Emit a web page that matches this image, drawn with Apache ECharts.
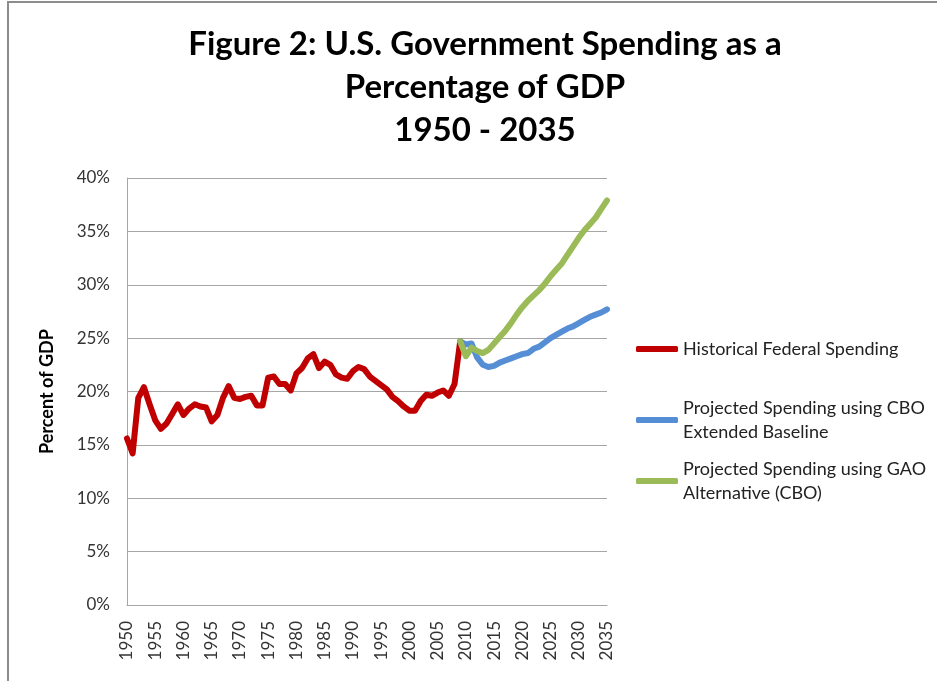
<!DOCTYPE html>
<html>
<head>
<meta charset="utf-8">
<script src="https://cdn.jsdelivr.net/npm/echarts@6/dist/echarts.min.js"></script>
<style>
  html, body { margin: 0; padding: 0; background: #fff; }
  #chart { width: 937px; height: 681px; }
</style>
</head>
<body>
<div id="chart"></div>
<script>
// years on the category axis
var years = [];
for (var y = 1950; y <= 2035; y++) years.push(String(y));

// historical federal spending, % of GDP, 1950 - 2009
var historical = [
    15.6, 14.2, 19.4, 20.4, 18.8, 17.3, 16.5, 17.0, 17.9, 18.8,
    17.8, 18.4, 18.8, 18.6, 18.5, 17.2, 17.8, 19.4, 20.5, 19.4,
    19.3, 19.5, 19.6, 18.7, 18.7, 21.3, 21.4, 20.7, 20.7, 20.1,
    21.7, 22.2, 23.1, 23.5, 22.2, 22.8, 22.5, 21.6, 21.3, 21.2,
    21.9, 22.3, 22.1, 21.4, 21.0, 20.6, 20.2, 19.5, 19.1, 18.6,
    18.2, 18.2, 19.1, 19.7, 19.6, 19.9, 20.1, 19.6, 20.7, 24.7
];

// projections, % of GDP, 2009 - 2035
var cboBaseline = [
    24.7, 24.4, 24.5, 23.2, 22.5, 22.3, 22.4, 22.7, 22.9, 23.1,
    23.3, 23.5, 23.6, 24.0, 24.2, 24.6, 25.0, 25.3, 25.6, 25.9,
    26.1, 26.4, 26.7, 27.0, 27.2, 27.4, 27.7
];
var gaoAlternative = [
    24.7, 23.3, 24.1, 23.8, 23.6, 23.9, 24.5, 25.1, 25.7, 26.4,
    27.2, 27.9, 28.5, 29.0, 29.5, 30.1, 30.8, 31.4, 32.0, 32.8,
    33.6, 34.4, 35.1, 35.7, 36.3, 37.1, 37.9
];

var seriesNames = [
    'Historical Federal Spending',
    'Projected Spending using CBO Extended Baseline',
    'Projected Spending using GAO Alternative (CBO)'
];

// pad a series out to the full year range
function padData(values, startYear) {
    var out = [];
    for (var i = 0; i < years.length; i++) {
        var idx = Number(years[i]) - startYear;
        out.push(idx >= 0 && idx < values.length ? values[idx] : null);
    }
    return out;
}

var fontName = 'Lato';
var legendWrap = {};
legendWrap[seriesNames[0]] = 'Historical Federal Spending';
legendWrap[seriesNames[1]] = 'Projected Spending using CBO\nExtended Baseline';
legendWrap[seriesNames[2]] = 'Projected Spending using GAO\nAlternative (CBO)';

function makeLegend(name, top, twoLines) {
    return {
        data: [name],
        left: 636,
        top: top,
        padding: 0,
        itemWidth: 42,
        itemHeight: 6,
        itemGap: 0,
        icon: 'roundRect',
        formatter: function (n) { return legendWrap[n]; },
        textStyle: {
            fontFamily: fontName,
            fontSize: 18,
            color: '#222',
            lineHeight: 24,
            padding: twoLines ? [24, 0, 0, 0] : 0
        }
    };
}

var chart = echarts.init(document.getElementById('chart'));
var option = {
    backgroundColor: '#fff',
    animation: false,
    graphic: [{
        type: 'rect',
        shape: { x: 8, y: 2, width: 1200, height: 1200 },
        style: { fill: 'none', stroke: '#8c8c8c', lineWidth: 2 },
        silent: true
    }],
    title: {
        text: 'Figure 2: U.S. Government Spending as a\nPercentage of GDP\n1950 - 2035',
        left: 480,
        top: 18,
        textAlign: 'center',
        textStyle: {
            fontFamily: fontName,
            fontSize: 33,
            fontWeight: 'bold',
            color: '#000',
            lineHeight: 43
        }
    },
    legend: [
        makeLegend(seriesNames[0], 337, false),
        makeLegend(seriesNames[1], 384, true),
        makeLegend(seriesNames[2], 445, true)
    ],
    grid: { left: 127, right: 330, top: 178, bottom: 76, containLabel: false },
    xAxis: {
        type: 'category',
        data: years,
        boundaryGap: false,
        axisLine: { lineStyle: { color: '#a6a6a6', width: 1 } },
        axisTick: { show: false },
        axisLabel: {
            interval: 4,
            rotate: 90,
            margin: 16,
            fontFamily: fontName,
            fontSize: 17,
            color: '#333'
        },
        splitLine: { show: false }
    },
    yAxis: {
        type: 'value',
        min: 0,
        max: 40,
        interval: 5,
        name: 'Percent of GDP',
        nameLocation: 'middle',
        nameGap: 71,
        nameTextStyle: {
            fontFamily: fontName,
            fontSize: 18,
            fontWeight: 'bold',
            color: '#000'
        },
        axisLine: { show: true, lineStyle: { color: '#a6a6a6', width: 1 } },
        axisTick: { show: false },
        axisLabel: {
            formatter: '{value}%',
            margin: 17,
            fontFamily: fontName,
            fontSize: 17,
            color: '#333'
        },
        splitLine: { lineStyle: { color: '#a6a6a6', width: 1 } }
    },
    series: [{
        name: seriesNames[0],
        type: 'line',
        data: padData(historical, 1950),
        showSymbol: false,
        symbol: 'none',
        lineStyle: { color: '#C00000', width: 6, cap: 'round', join: 'round' },
        itemStyle: { color: '#C00000' }
    }, {
        name: seriesNames[1],
        type: 'line',
        data: padData(cboBaseline, 2009),
        showSymbol: false,
        symbol: 'none',
        lineStyle: { color: '#558ED5', width: 6, cap: 'round', join: 'round' },
        itemStyle: { color: '#558ED5' }
    }, {
        name: seriesNames[2],
        type: 'line',
        data: padData(gaoAlternative, 2009),
        showSymbol: false,
        symbol: 'none',
        lineStyle: { color: '#9BBB59', width: 6, cap: 'round', join: 'round' },
        itemStyle: { color: '#9BBB59' }
    }]
};
chart.setOption(option);
</script>
</body>
</html>
